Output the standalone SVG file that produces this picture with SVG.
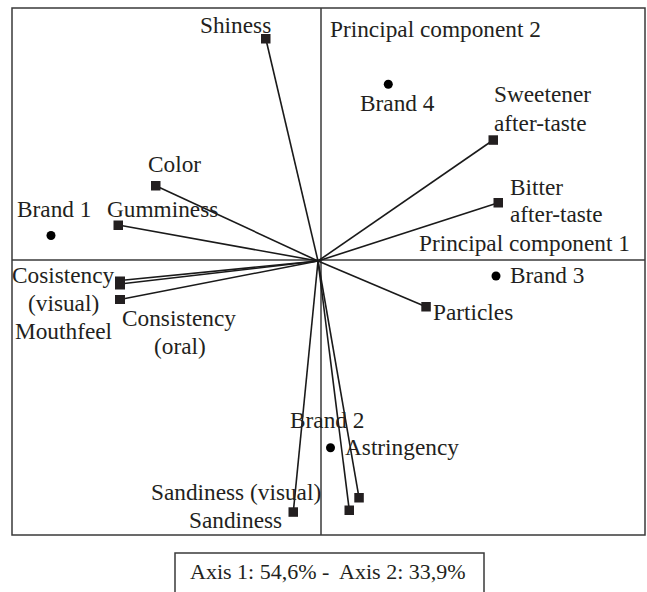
<svg xmlns="http://www.w3.org/2000/svg" width="647" height="592" viewBox="0 0 647 592">
<style>
.frame{fill:none;stroke:#3a3a3a;stroke-width:1.5}
.axis{stroke:#3a3a3a;stroke-width:1.5}
.vec{stroke:#1a1a1a;stroke-width:1.6;fill:none}
.sq{fill:#231f20}
.dot{fill:#000}
text{font-family:"Liberation Serif","Times New Roman",serif;font-size:23.3px;fill:#231f20}
.leg{font-size:22px;white-space:pre}
</style>
<rect width="647" height="592" fill="#fff"/>
<g id="plot-frame">
<rect class="frame" x="12" y="8" width="633" height="527"/>
<line class="axis" x1="321" y1="8" x2="321" y2="535"/>
<line class="axis" x1="12" y1="260" x2="645" y2="260"/>
<text x="330" y="37">Principal component 2</text>
<text x="419" y="251">Principal component 1</text>
</g>
<g id="connectors">
<line class="vec" x1="318" y1="261" x2="265.7" y2="38.3"/>
<line class="vec" x1="318" y1="261" x2="155.7" y2="185.7"/>
<line class="vec" x1="318" y1="261" x2="118.3" y2="225"/>
<line class="vec" x1="318" y1="261" x2="120" y2="280.5"/>
<line class="vec" x1="318" y1="261" x2="120" y2="284"/>
<line class="vec" x1="318" y1="261" x2="120" y2="299.5"/>
<line class="vec" x1="318" y1="261" x2="293.3" y2="512"/>
<line class="vec" x1="318" y1="261" x2="349.3" y2="510.3"/>
<line class="vec" x1="318" y1="261" x2="359" y2="497.7"/>
<line class="vec" x1="318" y1="261" x2="426" y2="306.7"/>
<line class="vec" x1="318" y1="261" x2="498.3" y2="202.7"/>
<line class="vec" x1="318" y1="261" x2="493.3" y2="140"/>
</g>
<g id="shiness"><rect class="sq" x="261" y="34" width="9.5" height="9.5"/><text x="200" y="33">Shiness</text></g>
<g id="color"><rect class="sq" x="151" y="181" width="9.5" height="9.5"/><text x="148" y="172">Color</text></g>
<g id="gumminess"><rect class="sq" x="113.5" y="220.5" width="9.5" height="9.5"/><text x="107" y="217">Gumminess</text></g>
<g id="brand1"><circle class="dot" cx="51" cy="235.5" r="4.5"/><text x="17" y="217">Brand 1</text></g>
<g id="cosistency-visual"><rect class="sq" x="115" y="276.5" width="10" height="8"/><rect class="sq" x="115" y="279.5" width="10" height="10"/><text x="12" y="283">Cosistency</text><text x="28" y="311">(visual)</text></g>
<g id="mouthfeel"><text x="15" y="339">Mouthfeel</text></g>
<g id="consistency-oral"><rect class="sq" x="115" y="295" width="10" height="9"/><text x="122" y="326">Consistency</text><text x="154" y="354">(oral)</text></g>
<g id="brand4"><circle class="dot" cx="388.3" cy="84.3" r="4.5"/><text x="360" y="111">Brand 4</text></g>
<g id="sweetener"><rect class="sq" x="488.5" y="135.3" width="9.5" height="9.5"/><text x="494" y="102">Sweetener</text><text x="494" y="131">after-taste</text></g>
<g id="bitter"><rect class="sq" x="493.5" y="198" width="9.5" height="9.5"/><text x="510" y="195">Bitter</text><text x="510" y="222">after-taste</text></g>
<g id="brand3"><circle class="dot" cx="496" cy="276" r="4.5"/><text x="510" y="283">Brand 3</text></g>
<g id="particles"><rect class="sq" x="421.3" y="302" width="9.5" height="9.5"/><text x="433" y="320">Particles</text></g>
<g id="brand2"><circle class="dot" cx="330.5" cy="447.7" r="4.5"/><text x="290" y="428">Brand 2</text></g>
<g id="astringency"><rect class="sq" x="354.3" y="493" width="9.5" height="9.5"/><text x="345" y="455">Astringency</text></g>
<g id="sandiness-visual"><rect class="sq" x="344.5" y="505.5" width="9.5" height="9.5"/><text x="151" y="500">Sandiness (visual)</text></g>
<g id="sandiness"><rect class="sq" x="288.5" y="507.3" width="9.5" height="9.5"/><text x="189" y="528">Sandiness</text></g>
<g id="legend"><rect class="frame" x="175" y="553" width="309" height="45"/><text class="leg" x="190" y="579" xml:space="preserve">Axis 1: 54,6% -  Axis 2: 33,9%</text></g>
</svg>
